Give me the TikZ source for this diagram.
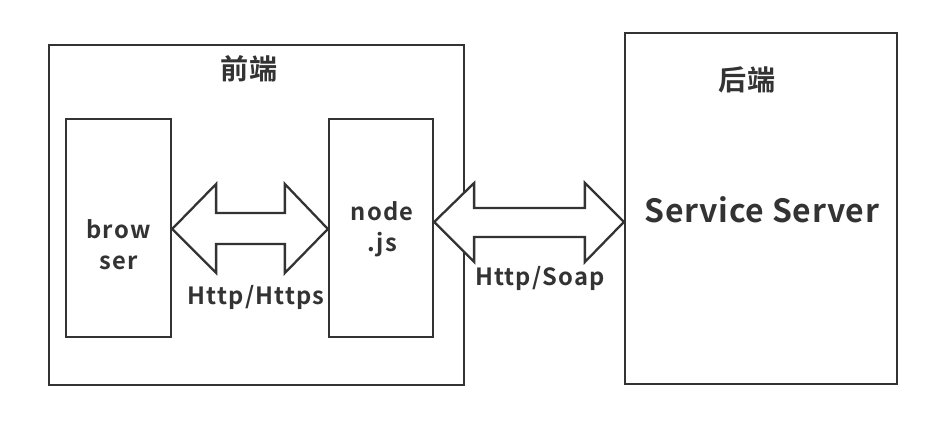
\documentclass[tikz,border=0pt]{standalone}
\usepackage{fontspec}
\setmainfont{Noto Sans CJK SC}[BoldFont={Noto Sans CJK SC Bold}]
\usetikzlibrary{calc}
\definecolor{inkgray}{HTML}{333333}

\begin{document}
\begin{tikzpicture}[x=0.02cm, y=-0.02cm, line join=miter,
	box/.style={draw=inkgray, line width=1.3pt, inner sep=0pt},
	arrowshape/.style={draw=inkgray, line width=1.3pt, fill=white},
	lbl/.style={text=inkgray, font=\bfseries\fontsize{13.5}{17.5}\selectfont\addfontfeatures{LetterSpace=5}, align=center},
	title/.style={text=inkgray, font=\bfseries\fontsize{16}{18}\selectfont}]
	
	\useasboundingbox (0,0) rectangle (951,428);
	
	% ==========================================
	% Khung ngoai: front / back
	% ==========================================
	\node[box, minimum width=8.3cm, minimum height=6.8cm] (front) at (256.5,215) {};
	\node[box, minimum width=5.44cm, minimum height=7.02cm] (back) at (761,208.5) {};
	
	% Hai khoi ben trong
	\node[box, minimum width=2.1cm, minimum height=4.36cm] (browser) at (118.5,228) {};
	\node[box, minimum width=2.08cm, minimum height=4.36cm] (nodejs) at (381,228) {};
	
	% Tieu de
	\node[title] (fronttitle) at (249,69) {前端};
	\node[title] (backtitle) at (747,80) {后端};
	\node[title, font=\bfseries\fontsize{18.2}{20}\selectfont\addfontfeatures{LetterSpace=2}] (service) at (762,210) {Service Server};
	
	% Chu trong khoi
	\node[lbl] (browtxt) at ($(browser.center)+(0,17)$) {brow\\ser};
	\node[lbl] (nodetxt) at ($(nodejs.center)+(1,1)$) {node\\.js};
	
	% ==========================================
	% Mui ten hai chieu
	% ==========================================
	\coordinate (a1) at ($(browser.east)+(0,1)$);
	\coordinate (b1) at (nodejs.west |- a1);
	\draw[arrowshape] (a1) -- ++(44,-45) -- ++(0,29) -- ($(b1)+(-43,-16)$) -- ++(0,-29)
		-- (b1) -- ++(-43,44) -- ++(0,-29) -- ($(a1)+(44,15)$) -- ++(0,29) -- cycle;
	\node[lbl] (proto1) at ($(a1)!0.5!(b1)+(6,68)$) {Http/Https};
	
	\coordinate (a2) at ($(nodejs.east)+(0,-6)$);
	\coordinate (b2) at (back.west |- a2);
	\draw[arrowshape] (a2) -- ++(40,-39) -- ++(0,25) -- ($(b2)+(-39,-14)$) -- ++(0,-25)
		-- (b2) -- ++(-39,40) -- ++(0,-25) -- ($(a2)+(40,15)$) -- ++(0,25) -- cycle;
	\node[lbl] (proto2) at ($(a2)!0.5!(b2)+(11,56)$) {Http/Soap};
	
\end{tikzpicture}
\end{document}
